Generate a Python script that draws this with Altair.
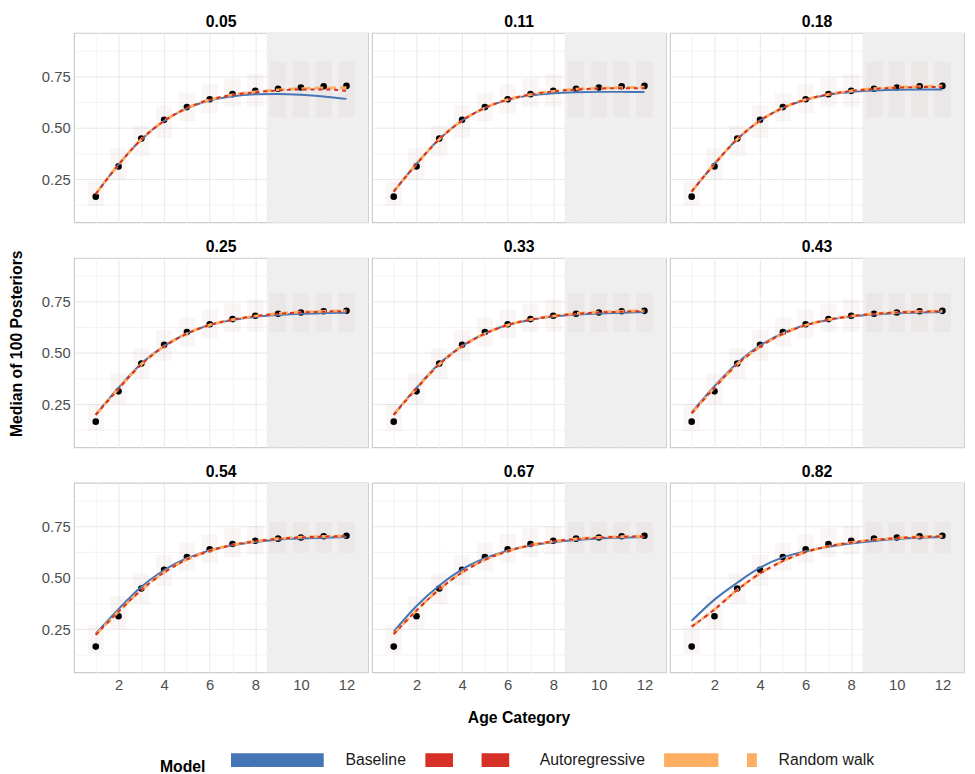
import altair as alt
import pandas as pd

# ---------------- data ----------------
panels = ["0.05", "0.11", "0.18", "0.25", "0.33", "0.43", "0.54", "0.67", "0.82"]
ages = [1, 2, 3, 4, 5, 6, 7, 8, 9, 10, 11, 12]
observed = [0.165, 0.312, 0.447, 0.538, 0.600, 0.638, 0.663, 0.679, 0.689, 0.695, 0.701, 0.703]

models = ["Baseline", "Autoregressive", "Random walk"]
model_colors = ["#4575b4", "#d73027", "#fdae61"]
line_dashes = [None, [4, 4], [9, 4]]
line_widths = [2.0, 2.0, 2.8]
legend_dashes = [[1, 0], [28, 29], [55, 29]]

baseline = {
    "0.05": [0.178, 0.322, 0.443, 0.533, 0.594, 0.632, 0.653, 0.662, 0.664, 0.660, 0.652, 0.640],
    "0.11": [0.190, 0.325, 0.445, 0.535, 0.596, 0.635, 0.657, 0.667, 0.672, 0.674, 0.674, 0.673],
    "0.18": [0.190, 0.325, 0.445, 0.535, 0.596, 0.636, 0.660, 0.673, 0.680, 0.684, 0.685, 0.685],
    "0.25": [0.200, 0.330, 0.447, 0.533, 0.594, 0.634, 0.658, 0.674, 0.683, 0.689, 0.692, 0.694],
    "0.33": [0.200, 0.330, 0.447, 0.533, 0.594, 0.634, 0.659, 0.675, 0.685, 0.690, 0.694, 0.697],
    "0.43": [0.210, 0.337, 0.450, 0.535, 0.595, 0.634, 0.659, 0.675, 0.685, 0.691, 0.695, 0.697],
    "0.54": [0.228, 0.347, 0.455, 0.537, 0.594, 0.632, 0.657, 0.673, 0.684, 0.690, 0.694, 0.697],
    "0.67": [0.238, 0.362, 0.462, 0.540, 0.594, 0.631, 0.656, 0.672, 0.683, 0.690, 0.694, 0.697],
    "0.82": [0.290, 0.393, 0.475, 0.548, 0.598, 0.628, 0.650, 0.666, 0.678, 0.687, 0.693, 0.697],
}
autoregressive = {
    "0.05": [0.178, 0.320, 0.443, 0.533, 0.595, 0.635, 0.659, 0.672, 0.681, 0.686, 0.686, 0.679],
    "0.11": [0.190, 0.323, 0.444, 0.534, 0.596, 0.636, 0.661, 0.676, 0.685, 0.690, 0.692, 0.692],
    "0.18": [0.190, 0.323, 0.444, 0.534, 0.596, 0.636, 0.662, 0.678, 0.688, 0.694, 0.697, 0.698],
    "0.25": [0.198, 0.325, 0.443, 0.530, 0.592, 0.634, 0.660, 0.677, 0.688, 0.695, 0.699, 0.701],
    "0.33": [0.198, 0.326, 0.443, 0.530, 0.592, 0.634, 0.660, 0.677, 0.688, 0.695, 0.699, 0.702],
    "0.43": [0.205, 0.330, 0.443, 0.529, 0.591, 0.633, 0.660, 0.677, 0.688, 0.695, 0.699, 0.701],
    "0.54": [0.222, 0.335, 0.440, 0.525, 0.588, 0.630, 0.658, 0.676, 0.688, 0.695, 0.699, 0.701],
    "0.67": [0.226, 0.340, 0.443, 0.525, 0.586, 0.628, 0.657, 0.675, 0.687, 0.694, 0.698, 0.700],
    "0.82": [0.262, 0.345, 0.440, 0.520, 0.580, 0.624, 0.652, 0.670, 0.683, 0.691, 0.697, 0.700],
}
random_walk = {
    "0.05": [0.178, 0.320, 0.443, 0.533, 0.595, 0.635, 0.660, 0.674, 0.684, 0.690, 0.693, 0.694],
    "0.11": [0.190, 0.323, 0.444, 0.534, 0.596, 0.636, 0.661, 0.677, 0.687, 0.692, 0.695, 0.697],
    "0.18": [0.190, 0.323, 0.444, 0.534, 0.596, 0.636, 0.662, 0.679, 0.690, 0.696, 0.700, 0.703],
    "0.25": [0.198, 0.325, 0.443, 0.530, 0.592, 0.634, 0.660, 0.678, 0.690, 0.697, 0.701, 0.703],
    "0.33": [0.198, 0.326, 0.443, 0.530, 0.592, 0.634, 0.661, 0.678, 0.690, 0.697, 0.701, 0.703],
    "0.43": [0.205, 0.330, 0.443, 0.529, 0.591, 0.633, 0.660, 0.678, 0.689, 0.696, 0.700, 0.702],
    "0.54": [0.222, 0.335, 0.440, 0.525, 0.588, 0.630, 0.658, 0.677, 0.689, 0.696, 0.700, 0.702],
    "0.67": [0.226, 0.340, 0.443, 0.525, 0.586, 0.628, 0.657, 0.676, 0.688, 0.695, 0.699, 0.701],
    "0.82": [0.262, 0.345, 0.440, 0.520, 0.580, 0.624, 0.652, 0.671, 0.684, 0.692, 0.698, 0.701],
}

# spread of the posterior draws (faint cloud) per age category
cloud_lo = {
    "top": [0.12, 0.25, 0.36, 0.45, 0.53, 0.57, 0.60, 0.60, 0.55, 0.55, 0.55, 0.55],
    "mid": [0.12, 0.25, 0.37, 0.46, 0.53, 0.57, 0.60, 0.60, 0.60, 0.60, 0.60, 0.60],
    "bot": [0.13, 0.25, 0.37, 0.46, 0.53, 0.57, 0.60, 0.61, 0.62, 0.62, 0.62, 0.62],
}
cloud_hi = {
    "top": [0.24, 0.40, 0.51, 0.61, 0.67, 0.71, 0.74, 0.76, 0.82, 0.82, 0.82, 0.82],
    "mid": [0.25, 0.40, 0.52, 0.61, 0.67, 0.71, 0.74, 0.76, 0.79, 0.79, 0.79, 0.79],
    "bot": [0.27, 0.41, 0.52, 0.61, 0.67, 0.71, 0.74, 0.75, 0.77, 0.77, 0.77, 0.77],
}
cloud_group = ["top", "top", "top", "mid", "mid", "mid", "bot", "bot", "bot"]

holdout_start = 8.5
x_domain = [0.05, 12.95]
y_domain = [0.04, 0.96]

# ---------------- table ----------------
rows = []
for i, p in enumerate(panels):
    r, c = i // 3, i % 3
    rows.append(dict(panel=p, row=r, col=c, kind="shade", age=holdout_start, age2=x_domain[1]))
    rows.append(dict(panel=p, row=r, col=c, kind="title", label=p))
    g = cloud_group[i]
    for j, a in enumerate(ages):
        rows.append(dict(panel=p, row=r, col=c, kind="cloud", age=a,
                         lo=cloud_lo[g][j], hi=cloud_hi[g][j]))
        rows.append(dict(panel=p, row=r, col=c, kind="obs", age=a, value=observed[j]))
    for m, series in [("Baseline", baseline), ("Random walk", random_walk),
                      ("Autoregressive", autoregressive)]:
        for j, a in enumerate(ages):
            rows.append(dict(panel=p, row=r, col=c, kind="line", age=a,
                             value=series[p][j], model=m))
df = pd.DataFrame(rows)

W, H = 298, 192
FONT = "Liberation Sans"

xs = alt.Scale(domain=x_domain, nice=False, zero=False)
ys = alt.Scale(domain=y_domain, nice=False, zero=False)

x_axis = alt.Axis(
    values=ages, title=None, domain=False, ticks=False,
    labelFont=FONT, labelFontSize=15, labelColor="#4d4d4d", labelPadding=4,
    labelExpr="datum.value % 2 == 0 ? datum.label : ''",
    gridColor={"condition": {"test": "datum.value % 2 == 0", "value": "#e8e8e8"}, "value": "#f3f3f3"},
)
y_axis = alt.Axis(
    values=[0.125, 0.25, 0.375, 0.5, 0.625, 0.75, 0.875], title=None, domain=False, ticks=False,
    format=".2f", labelFont=FONT, labelFontSize=15, labelColor="#4d4d4d", labelPadding=3,
    labelExpr="(datum.value == 0.25 || datum.value == 0.5 || datum.value == 0.75) ? datum.label : ''",
    gridColor={"condition": {"test": "datum.value == 0.25 || datum.value == 0.5 || datum.value == 0.75",
                             "value": "#e8e8e8"}, "value": "#f3f3f3"},
)
X = alt.X("age:Q", scale=xs, axis=x_axis)
Y = alt.Y("value:Q", scale=ys, axis=y_axis)

shade = alt.Chart().mark_rect(color="#efefef").encode(
    x=X, x2="age2:Q", y=alt.value(0), y2=alt.value(H),
).transform_filter("datum.kind == 'shade'")

cloud = alt.Chart().mark_rect(color="#d9a3ab", opacity=0.10).encode(
    x=alt.X("xl:Q", scale=xs, axis=x_axis), x2="xr:Q",
    y=alt.Y("lo:Q", scale=ys, axis=y_axis), y2="hi:Q",
).transform_filter("datum.kind == 'cloud'").transform_calculate(
    xl="datum.age - 0.36", xr="datum.age + 0.36")

pts = alt.Chart().mark_circle(color="black", size=45, opacity=1).encode(
    x=X, y=Y,
).transform_filter("datum.kind == 'obs'")


def model_line(name):
    k = models.index(name)
    kw = dict(interpolate="monotone", strokeWidth=line_widths[k], color=model_colors[k])
    if line_dashes[k]:
        kw["strokeDash"] = line_dashes[k]
    return alt.Chart().mark_line(**kw).encode(x=X, y=Y).transform_filter(
        f"datum.kind == 'line' && datum.model == '{name}'")


line_base = model_line("Baseline")
line_rw = model_line("Random walk")
line_ar = model_line("Autoregressive")

# legend-only layer (draws nothing: no rows have this kind)
legend = alt.Legend(
    orient="none", legendX=87, legendY=723, direction="horizontal",
    title="Model", titleOrient="left",
    titleFontSize=16, titleFontWeight="bold",
    titleColor="black", titleFont=FONT, titlePadding=18,
    labelFontSize=16, labelFont=FONT, labelColor="#1a1a1a", labelOffset=95,
    columnPadding=-9, symbolType="M-1,0H12.43", symbolSize=196, symbolStrokeWidth=14,
    symbolOpacity=1,
)
legend_layer = alt.Chart().mark_line().encode(
    x=X, y=Y,
    color=alt.Color("model:N", scale=alt.Scale(domain=models, range=model_colors), legend=legend),
    strokeDash=alt.StrokeDash("model:N", scale=alt.Scale(domain=models, range=legend_dashes), legend=None),
).transform_filter("datum.kind == 'legendkey'")

titles = alt.Chart().mark_text(fontSize=16, fontWeight="bold", font=FONT, color="black",
                               baseline="middle").encode(
    x=alt.value(W / 2), y=alt.value(-11), text="label:N",
).transform_filter("datum.kind == 'title'")

layered = alt.layer(shade, cloud, pts, line_base, line_rw, line_ar, legend_layer, titles,
                    data=df).properties(width=W, height=H)

chart = layered.facet(
    row=alt.Row("row:O", header=alt.Header(labels=False, labelPadding=0, title="Median of 100 Posteriors",
                                           titleFontSize=16, titleFontWeight="bold", titleColor="black",
                                           titleFont=FONT, titlePadding=6)),
    column=alt.Column("col:O", header=alt.Header(labels=False, labelPadding=0, title="Age Category",
                                                 titleOrient="bottom",
                                                 titleFontSize=16, titleFontWeight="bold", titleColor="black",
                                                 titleFont=FONT, titlePadding=8)),
    spacing={"row": 15, "column": 2},
).properties(
    padding={"left": 0, "top": 0, "right": 2, "bottom": 0},
    background="white",
).configure_view(
    stroke="#cccccc", strokeWidth=1.2,
)

chart.save("out.html", embed_options={"renderer": "svg", "actions": False})
